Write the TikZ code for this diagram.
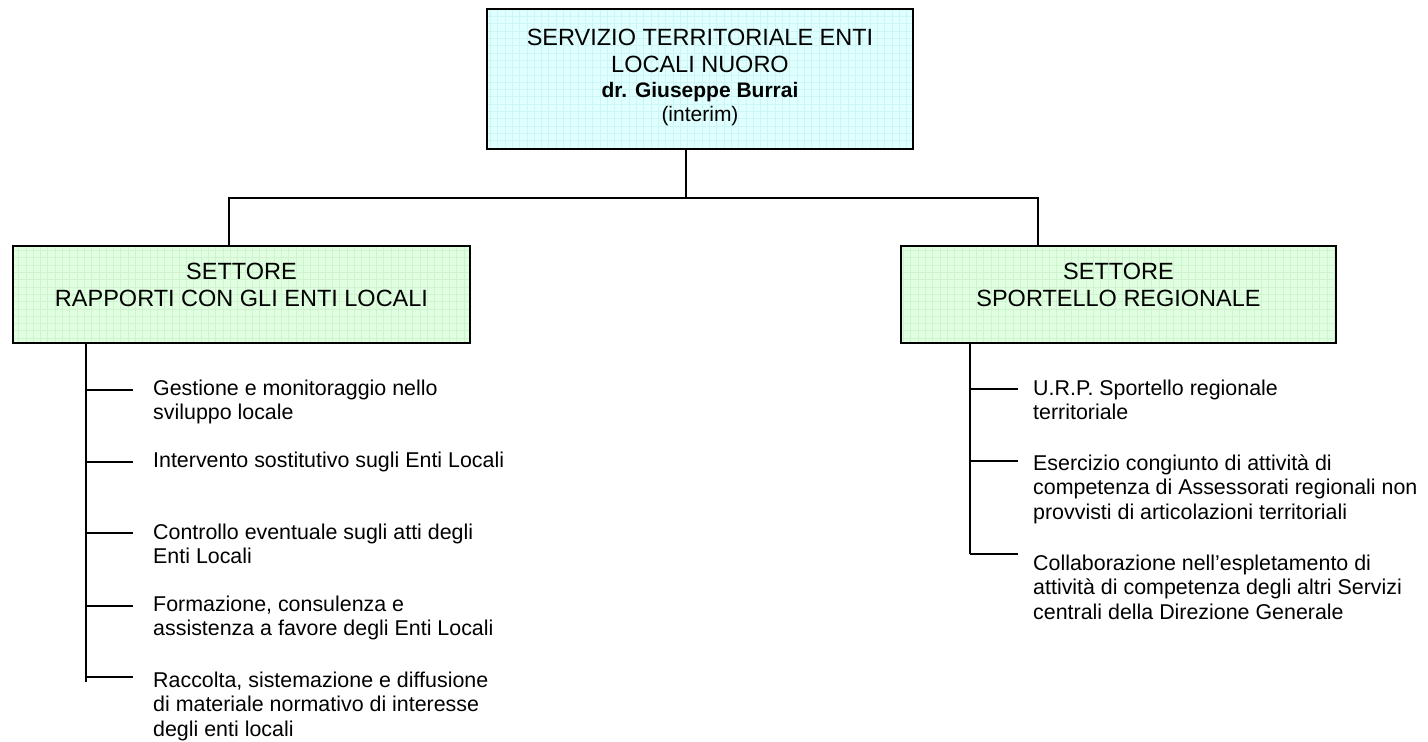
\documentclass[tikz,border=0pt]{standalone}
\usepackage{fontspec}
\setmainfont{Liberation Sans}
\definecolor{cyanfill}{RGB}{224,255,255}
\definecolor{cyangrid}{RGB}{206,245,245}
\definecolor{greenfill}{RGB}{224,255,224}
\definecolor{greengrid}{RGB}{206,243,206}
\newcommand{\boxlines}[1]{\begin{tabular}[t]{@{}c@{}}#1\end{tabular}}
\newcommand{\itemlines}[1]{\begin{tabular}[t]{@{}l@{}}#1\end{tabular}}
\tikzset{
  unitbox/.style={draw, line width=1.8pt, inner sep=0pt, font=\fontsize{23.5}{27}\selectfont},
  gridbg/.style 2 args={fill=#1, path picture={\draw[#2, line width=0.5pt, step=7.3pt] (path picture bounding box.south west) grid (path picture bounding box.north east);}},
  conn/.style={line width=1.3pt},
  itemtext/.style={anchor=base west, inner sep=0pt, font=\fontsize{21.4}{24.6}\selectfont}
}
\begin{document}
\begin{tikzpicture}[x=1pt,y=-1pt]
\useasboundingbox (0,0) rectangle (1428,742);

% boxes
\node[unitbox, gridbg={cyanfill}{cyangrid}, minimum width=426pt, text height=36.6pt, text depth=103.4pt] (top) at (700,79)
  {\boxlines{SERVIZIO TERRITORIALE ENTI\\ LOCALI NUORO\\[-2pt] {\fontsize{21}{24}\selectfont\bfseries dr. Giuseppe Burrai}\\[-3pt] {\fontsize{21}{24}\selectfont (interim)}}};
\node[unitbox, gridbg={greenfill}{greengrid}, minimum width=457pt, text height=33.6pt, text depth=63.4pt] (left) at (241.5,294.5)
  {\boxlines{SETTORE\\ RAPPORTI CON GLI ENTI LOCALI}};
\node[unitbox, gridbg={greenfill}{greengrid}, minimum width=435pt, text height=33.6pt, text depth=63.4pt] (right) at (1118.5,294.5)
  {\boxlines{SETTORE\\ SPORTELLO REGIONALE}};

% top connectors
\coordinate (jt) at (686,198);
\coordinate (jl) at (229,198);
\coordinate (jr) at (1038,198);
\draw[conn] (top.south -| jt) -- (jt);
\draw[conn] (jl |- left.north) -- (jl) -- (jr) -- (jr |- right.north);

% left list
\coordinate (ls) at (86,682);
\draw[conn] (left.south -| ls) -- (ls);
\coordinate (lb1) at (133,390);
\coordinate (lb2) at (133,462);
\coordinate (lb3) at (133,533);
\coordinate (lb4) at (133,606);
\coordinate (lb5) at (133,677);
\foreach \b in {lb1,lb2,lb3,lb4,lb5}{\draw[conn] (\b -| ls) -- (\b);}
\node[itemtext] (l1) at (153,395) {\itemlines{Gestione e monitoraggio nello\\ sviluppo locale}};
\node[itemtext] (l2) at (153,467) {\itemlines{Intervento sostitutivo sugli Enti Locali}};
\node[itemtext] (l3) at (153,539) {\itemlines{Controllo eventuale sugli atti degli\\ Enti Locali}};
\node[itemtext] (l4) at (153,611) {\itemlines{Formazione, consulenza e\\ assistenza a favore degli Enti Locali}};
\node[itemtext] (l5) at (153,687) {\itemlines{Raccolta, sistemazione e diffusione\\ di materiale normativo di interesse\\ degli enti locali}};

% right list
\coordinate (rs) at (970,554);
\draw[conn] (right.south -| rs) -- (rs);
\coordinate (rb1) at (1018,389);
\coordinate (rb2) at (1018,461);
\coordinate (rb3) at (1018,554);
\foreach \b in {rb1,rb2,rb3}{\draw[conn] (\b -| rs) -- (\b);}
\node[itemtext] (r1) at (1033,395) {\itemlines{U.R.P. Sportello regionale\\ territoriale}};
\node[itemtext] (r2) at (1033,470) {\itemlines{Esercizio congiunto di attività di\\ competenza di Assessorati regionali non\\ provvisti di articolazioni territoriali}};
\node[itemtext] (r3) at (1033,570) {\itemlines{Collaborazione nell’espletamento di\\ attività di competenza degli altri Servizi\\ centrali della Direzione Generale}};
\end{tikzpicture}
\end{document}
